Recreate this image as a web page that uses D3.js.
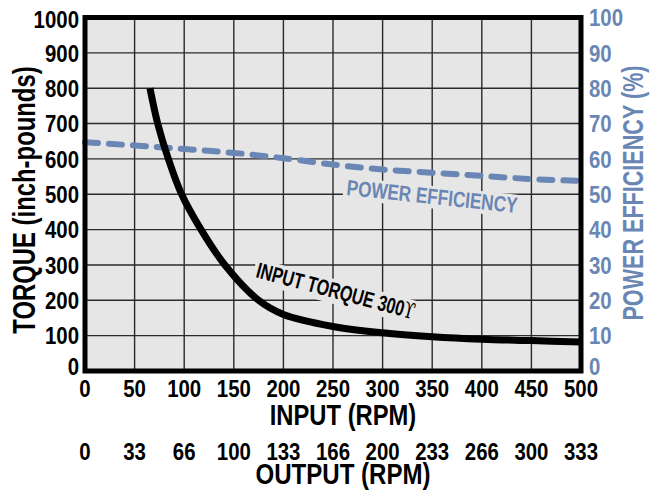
<!DOCTYPE html>
<html>
<head>
<meta charset="utf-8">
<script src="https://cdn.jsdelivr.net/npm/d3@7"></script>
<style>
  body { margin: 0; background: #fff; }
  svg text { font-family: "Liberation Sans", Arial, sans-serif; font-weight: bold; }
</style>
</head>
<body>
<svg id="chart" width="650" height="490"></svg>
<script>
// values
const inputTicks = [0, 50, 100, 150, 200, 250, 300, 350, 400, 450, 500];
const outputTicks = ["0", "33", "66", "100", "133", "166", "200", "233", "266", "300", "333"];
const torqueTicks = [0, 100, 200, 300, 400, 500, 600, 700, 800, 900, 1000];
const effTicks = [0, 10, 20, 30, 40, 50, 60, 70, 80, 90, 100];

const torqueRpm = [65.5, 73.3, 84, 97.4, 117, 141, 175, 200, 250, 300, 350, 400, 450, 500];
const torqueVal = [800, 700, 600, 500, 400, 300, 200, 160, 126, 108, 97, 90, 86, 82];

const effRpm = [0, 50, 100, 150, 200, 250, 300, 350, 400, 450, 500];
const effVal = [64.7, 63.8, 62.8, 61.7, 60.2, 58.4, 57, 56.1, 55.2, 54.3, 53.8];

const blue = "#6a86b4";
const bg = "#e6e6e6";
const svg = d3.select("#chart");
const margin = {top: 17.5, right: 69, bottom: 119, left: 85};
const width = 650, height = 490;

const x = d3.scaleLinear().domain([0, 500]).range([margin.left, width - margin.right]);
const y = d3.scaleLinear().domain([0, 1000]).range([height - margin.bottom, margin.top]);
const y2 = d3.scaleLinear().domain([0, 100]).range([height - margin.bottom, margin.top]);

// condensed bold text (the original face is a narrow grotesque)
function ctext(sel, tx, ty, sx, rot) {
  return sel.append("text")
    .attr("transform", `translate(${tx},${ty}) rotate(${rot || 0}) scale(${sx},1)`);
}

// background
svg.append("rect")
  .attr("x", x(0)).attr("y", y(1000))
  .attr("width", x(500) - x(0)).attr("height", y(0) - y(1000))
  .attr("fill", bg);

// grid
const grid = svg.append("g").attr("stroke", "#2a2a2a").attr("stroke-width", 1.4);
grid.selectAll(".gx").data(inputTicks.slice(1, -1)).join("line")
  .attr("x1", d => x(d)).attr("x2", d => x(d))
  .attr("y1", y(0)).attr("y2", y(1000));
grid.selectAll(".gy").data(torqueTicks.slice(1, -1)).join("line")
  .attr("y1", d => y(d)).attr("y2", d => y(d))
  .attr("x1", x(0)).attr("x2", x(500));

// in-plot label with background mask over the grid
function plotLabel(txt, px, py, angle, size, color, sx, extra) {
  const g = svg.append("g")
    .attr("transform", `translate(${px},${py}) rotate(${angle}) scale(${sx},1)`);
  const r = g.append("rect").attr("fill", bg);
  const t = g.append("text").attr("font-size", size).attr("fill", color).text(txt);
  if (extra) t.append("tspan").attr("font-family", "DejaVu Serif").attr("font-weight", "normal").text(extra);
  const b = t.node().getBBox();
  r.attr("x", b.x - 4).attr("y", b.y + 2).attr("width", b.width + 8).attr("height", b.height - 2);
}

plotLabel("POWER EFFICIENCY", 346, 195, 6, 22, blue, 0.78);
plotLabel("INPUT TORQUE 300", 255, 277, 15, 22, "#000", 0.73, "ϒ");

// efficiency line
const effLine = d3.line()
  .x((d, i) => x(effRpm[i]))
  .y(d => y2(d))
  .curve(d3.curveMonotoneX);

svg.append("path")
  .datum(effVal)
  .attr("d", effLine)
  .attr("fill", "none")
  .attr("stroke", blue)
  .attr("stroke-width", 6)
  .attr("stroke-dasharray", "13 11")
  .attr("stroke-linecap", "round");

// torque curve
const torqueLine = d3.line()
  .x((d, i) => x(torqueRpm[i]))
  .y(d => y(d))
  .curve(d3.curveCatmullRom.alpha(0.5));

svg.append("path")
  .datum(torqueVal)
  .attr("d", torqueLine)
  .attr("fill", "none")
  .attr("stroke", "#000")
  .attr("stroke-width", 7);

// frame
svg.append("rect")
  .attr("x", x(0)).attr("y", y(1000))
  .attr("width", x(500) - x(0)).attr("height", y(0) - y(1000))
  .attr("fill", "none").attr("stroke", "#000").attr("stroke-width", 5);

// tick labels: the bottom "0" sits a little above its line
const lift = d => d === 0 ? -5 : 0;

const left = svg.append("g");
torqueTicks.forEach(d => {
  ctext(left, 79, y(d) + lift(d) + (d === 1000 ? 2 : 0), 0.85)
    .attr("dy", "0.36em").attr("text-anchor", "end").attr("font-size", 24)
    .text(d);
});

const right = svg.append("g");
effTicks.forEach(d => {
  ctext(right, 589, y2(d) + lift(d), 0.85)
    .attr("dy", "0.36em").attr("text-anchor", "start").attr("font-size", 24)
    .attr("fill", blue)
    .text(d);
});

const bottom = svg.append("g");
inputTicks.forEach(d => {
  ctext(bottom, x(d), 397, 0.85)
    .attr("text-anchor", "middle").attr("font-size", 24)
    .text(d);
});
outputTicks.forEach((d, i) => {
  ctext(bottom, x(inputTicks[i]), 460, 0.85)
    .attr("text-anchor", "middle").attr("font-size", 24)
    .text(d);
});

// titles
ctext(svg, 343, 425, 0.82).attr("text-anchor", "middle")
  .attr("font-size", 29).text("INPUT (RPM)");
ctext(svg, 343, 484, 0.83).attr("text-anchor", "middle")
  .attr("font-size", 29).text("OUTPUT (RPM)");

ctext(svg, 35, 200, 0.77, -90)
  .attr("text-anchor", "middle").attr("font-size", 31)
  .text("TORQUE (inch-pounds)");

ctext(svg, 643, 193, 0.72, -90)
  .attr("text-anchor", "middle").attr("font-size", 30).attr("fill", blue)
  .text("POWER EFFICIENCY (%)");
</script>
</body>
</html>
